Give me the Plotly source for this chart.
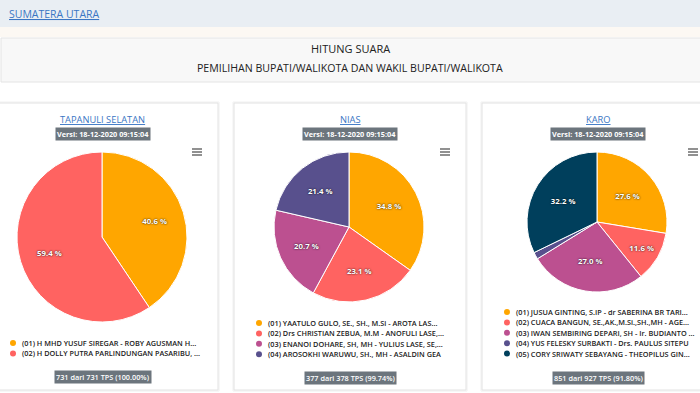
import plotly.graph_objects as go

W, H = 700, 393

# ---------------- data ----------------
region_names = ["TAPANULI SELATAN", "NIAS", "KARO"]
version_text = "Versi: 18-12-2020 09:15:04"

tapsel_candidates = [
    "(01) H MHD YUSUF SIREGAR - ROBY AGUSMAN H...",
    "(02) H DOLLY PUTRA PARLINDUNGAN PASARIBU, ...",
]
tapsel_pct = [40.6, 59.4]

nias_candidates = [
    "(01) YAATULO GULO, SE., SH., M.Si - AROTA LAS...",
    "(02) Drs CHRISTIAN ZEBUA, M.M - ANOFULI LASE,...",
    "(03) ENANOI DOHARE, SH, MH - YULIUS LASE, SE,...",
    "(04) AROSOKHI WARUWU, SH., MH - ASALDIN GEA",
]
nias_pct = [34.8, 23.1, 20.7, 21.4]

karo_candidates = [
    "(01) JUSUA GINTING, S.IP - dr SABERINA BR TARI...",
    "(02) CUACA BANGUN, SE.,AK.,M.Si.,SH.,MH - AGE...",
    "(03) IWAN SEMBIRING DEPARI, SH - Ir. BUDIANTO ...",
    "(04) YUS FELESKY SURBAKTI - Drs. PAULUS SITEPU",
    "(05) CORY SRIWATY SEBAYANG - THEOPILUS GIN...",
]
karo_pct = [27.6, 11.6, 27.0, 1.6, 32.2]

tps_labels = ["731 dari 731 TPS (100.00%)", "377 dari 378 TPS (99.74%)", "851 dari 927 TPS (91.80%)"]
slice_colors = ["#ffa600", "#ff6361", "#bc5090", "#58508d", "#003f5c"]

candidates = [tapsel_candidates, nias_candidates, karo_candidates]
percents = [tapsel_pct, nias_pct, karo_pct]

# ---------------- layout geometry (pixels) ----------------
cards = [
    dict(x0=-13, x1=218, pie=(102, 237, 85), leg=(13, 343), tps_y=377),
    dict(x0=234, x1=466, pie=(349, 227, 75), leg=(259, 323), tps_y=378),
    dict(x0=482, x1=714, pie=(597, 222, 70), leg=(507, 312), tps_y=378),
]
CARD_TOP, CARD_BOT = 103, 390
LEG_STEP = 10.4
LABEL_INSET = 30  # data labels sit this many px inside the rim

def px(x):
    return x / W

def py(y):
    return 1 - y / H

FONT = "Open Sans, Noto Sans, sans-serif"

fig = go.Figure()
shapes = []
annotations = []

# page header
shapes.append(dict(type="rect", xref="paper", yref="paper", x0=0, x1=1, y0=py(27), y1=py(0),
                   fillcolor="#e9eef3", line=dict(width=0), layer="below"))
shapes.append(dict(type="rect", xref="paper", yref="paper", x0=0, x1=1, y0=py(37), y1=py(27),
                   fillcolor="#fcf8f3", line=dict(width=0), layer="below"))
shapes.append(dict(type="rect", xref="paper", yref="paper", x0=px(1), x1=px(705), y0=py(82), y1=py(38),
                   fillcolor="#f8f8f8", line=dict(width=1, color="#e4e4e4"), layer="below"))
annotations.append(dict(text="<u>SUMATERA UTARA</u>", x=px(7), y=py(14), xref="paper", yref="paper",
                        xanchor="left", yanchor="middle", showarrow=False,
                        font=dict(family=FONT, size=10.5, color="#3a76c4")))
annotations.append(dict(text="HITUNG SUARA", x=0.5, y=py(49), xref="paper", yref="paper",
                        xanchor="center", yanchor="middle", showarrow=False,
                        font=dict(family=FONT, size=11, color="#222")))
annotations.append(dict(text="PEMILIHAN BUPATI/WALIKOTA DAN WAKIL BUPATI/WALIKOTA", x=0.5, y=py(68),
                        xref="paper", yref="paper", xanchor="center", yanchor="middle", showarrow=False,
                        font=dict(family=FONT, size=10.6, color="#222")))

for i, card in enumerate(cards):
    x0, x1 = card["x0"], card["x1"]
    cxm = (x0 + x1) / 2
    # soft shadow + card box
    shapes.append(dict(type="rect", xref="paper", yref="paper", x0=px(x0 - 1), x1=px(x1 + 1),
                       y0=py(CARD_BOT + 1), y1=py(CARD_TOP - 1), fillcolor="rgba(0,0,0,0)",
                       line=dict(width=1, color="#f0f0f0"), layer="below"))
    shapes.append(dict(type="rect", xref="paper", yref="paper", x0=px(x0), x1=px(x1),
                       y0=py(CARD_BOT), y1=py(CARD_TOP), fillcolor="white",
                       line=dict(width=1, color="#e2e2e2"), layer="below"))
    # title
    annotations.append(dict(text="<u>" + region_names[i] + "</u>", x=px(cxm), y=py(119),
                            xref="paper", yref="paper", xanchor="center", yanchor="middle",
                            showarrow=False, font=dict(family=FONT, size=9.3, color="#3a76c4")))
    # version badge
    annotations.append(dict(text="<b>" + version_text + "</b>", x=px(cxm), y=py(134),
                            xref="paper", yref="paper", xanchor="center", yanchor="middle",
                            showarrow=False, bgcolor="#6c757d", borderpad=1,
                            font=dict(family=FONT, size=7.3, color="white")))
    # hamburger menu
    hx = x1 - 21
    for dy in (-3, 0, 3):
        shapes.append(dict(type="line", xref="paper", yref="paper", x0=px(hx - 5), x1=px(hx + 5),
                           y0=py(152 + dy), y1=py(152 + dy), line=dict(color="#555", width=1.3)))
    # pie
    pcx, pcy, R = card["pie"]
    vals = percents[i]
    dom = dict(x=[px(pcx - R), px(pcx + R)], y=[py(pcy + R), py(pcy - R)])
    fig.add_trace(go.Pie(
        values=vals, labels=candidates[i], textinfo="none",
        sort=False, direction="clockwise", rotation=0,
        marker=dict(colors=slice_colors[:len(vals)], line=dict(color="white", width=1)),
        domain=dom, showlegend=False, hoverinfo="label+percent",
    ))
    # transparent ring overlay that carries the data labels (mid-ring = R - inset)
    txt = [f"{v:.1f} %" if v >= 5 else "" for v in vals]
    fig.add_trace(go.Pie(
        values=vals, labels=candidates[i], text=txt, textinfo="text",
        textposition="inside", insidetextorientation="horizontal",
        hole=1 - 2 * LABEL_INSET / R,
        sort=False, direction="clockwise", rotation=0,
        marker=dict(colors=["rgba(0,0,0,0)"] * len(vals), line=dict(width=0)),
        textfont=dict(family=FONT, size=7.8, color="white", weight="bold",
                      shadow="0px 0px 2px #000"),
        domain=dom, showlegend=False, hoverinfo="skip",
    ))
    # legend
    lx, ly = card["leg"]
    for j, name in enumerate(candidates[i]):
        yy = ly + j * LEG_STEP
        shapes.append(dict(type="circle", xref="paper", yref="paper",
                           x0=px(lx - 3), x1=px(lx + 3), y0=py(yy + 3), y1=py(yy - 3),
                           fillcolor=slice_colors[j], line=dict(width=0)))
        annotations.append(dict(text=name, x=px(lx + 7), y=py(yy), xref="paper", yref="paper",
                                xanchor="left", yanchor="middle", showarrow=False,
                                font=dict(family=FONT, size=7.3, color="#1a1a1a", weight=600)))
    # TPS badge
    annotations.append(dict(text=tps_labels[i], x=px(cxm), y=py(card["tps_y"]),
                            xref="paper", yref="paper", xanchor="center", yanchor="middle",
                            showarrow=False, bgcolor="#6c757d", borderpad=1,
                            font=dict(family=FONT, size=7.3, color="white", weight=600)))

fig.update_layout(
    width=W, height=H, margin=dict(l=0, r=0, t=0, b=0),
    paper_bgcolor="white", plot_bgcolor="white",
    shapes=shapes, annotations=annotations,
    showlegend=False,
)
fig.write_html("out.html", config=dict(displayModeBar=False),
               post_script="document.body.style.margin='0';document.body.style.overflow='hidden';")
